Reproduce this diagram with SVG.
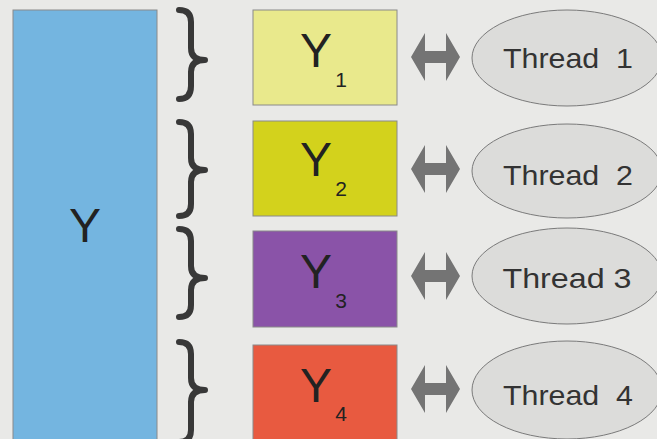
<svg xmlns="http://www.w3.org/2000/svg" width="657" height="439" viewBox="0 0 657 439">
<defs>
<style>
.bg{fill:#e9e9e7}
.box{stroke:#8a8a8a;stroke-width:1}
.brace{fill:none;stroke:#383838;stroke-width:6;stroke-linecap:round;stroke-linejoin:round}
.arr{fill:#747474}
.ell{fill:#dcdcda;stroke:#7a7a7a;stroke-width:1}
.lbl{font-family:"Liberation Sans",Arial,sans-serif;fill:#222}
.y{font-size:48px;text-anchor:middle}
.sub{font-size:21px;text-anchor:middle}
.th{font-size:28px;text-anchor:middle;white-space:pre;fill:#333}
</style>
</defs>
<rect class="bg" x="0" y="0" width="657" height="439"/>

<g id="Y">
<rect class="box" x="13" y="10" width="144" height="440" fill="#74b5e0"/>
<text class="lbl y" x="85" y="242">Y</text>
</g>

<g id="Y1">
<rect class="box" x="253" y="10" width="144" height="95" fill="#e9e98c"/>
<text class="lbl y" x="316" y="67">Y</text>
<text class="lbl sub" x="341" y="87">1</text>
</g>
<g id="Y2">
<rect class="box" x="253" y="121" width="144" height="95" fill="#d3d21c"/>
<text class="lbl y" x="316" y="176">Y</text>
<text class="lbl sub" x="341" y="196">2</text>
</g>
<g id="Y3">
<rect class="box" x="253" y="231" width="144" height="96" fill="#8a53a8"/>
<text class="lbl y" x="316" y="288">Y</text>
<text class="lbl sub" x="341" y="308">3</text>
</g>
<g id="Y4">
<rect class="box" x="253" y="345" width="144" height="110" fill="#e85a40"/>
<text class="lbl y" x="316" y="402">Y</text>
<text class="lbl sub" x="341" y="421">4</text>
</g>

<g id="T1">
<ellipse class="ell" cx="567" cy="58" rx="95" ry="48"/>
<text class="lbl th" x="568" y="68" textLength="130" lengthAdjust="spacingAndGlyphs">Thread  1</text>
</g>
<g id="T2">
<ellipse class="ell" cx="567" cy="171" rx="95" ry="47"/>
<text class="lbl th" x="568" y="185" textLength="130" lengthAdjust="spacingAndGlyphs">Thread  2</text>
</g>
<g id="T3">
<ellipse class="ell" cx="567" cy="276" rx="95" ry="48"/>
<text class="lbl th" x="567" y="288" textLength="129" lengthAdjust="spacingAndGlyphs">Thread 3</text>
</g>
<g id="T4">
<ellipse class="ell" cx="567" cy="390" rx="95" ry="49"/>
<text class="lbl th" x="568" y="405" textLength="130" lengthAdjust="spacingAndGlyphs">Thread  4</text>
</g>

<g id="connectors">
<path class="brace" d="M179,10 Q191,10 191,22 L191,48 Q191,60 205,60 Q191,60 191,72 L191,86 Q191,99 179,99"/>
<path class="brace" d="M179,122 Q191,122 191,134 L191,158 Q191,170 205,170 Q191,170 191,182 L191,204 Q191,216 179,216"/>
<path class="brace" d="M179,229 Q191,229 191,241 L191,266 Q191,278 205,278 Q191,278 191,290 L191,305 Q191,317 179,317"/>
<path class="brace" d="M179,342 Q191,342 191,354 L191,378 Q191,390 205,390 Q191,390 191,402 L191,430 Q191,442 179,442"/>

<polygon class="arr" points="411,57 425,33 425,51 446,51 446,33 460,57 446,81 446,63 425,63 425,81"/>
<polygon class="arr" points="411,169 425,145 425,163 446,163 446,145 460,169 446,193 446,175 425,175 425,193"/>
<polygon class="arr" points="411,276 425,252 425,270 446,270 446,252 460,276 446,300 446,282 425,282 425,300"/>
<polygon class="arr" points="411,389 425,365 425,383 446,383 446,365 460,389 446,413 446,395 425,395 425,413"/>
</g>
</svg>
